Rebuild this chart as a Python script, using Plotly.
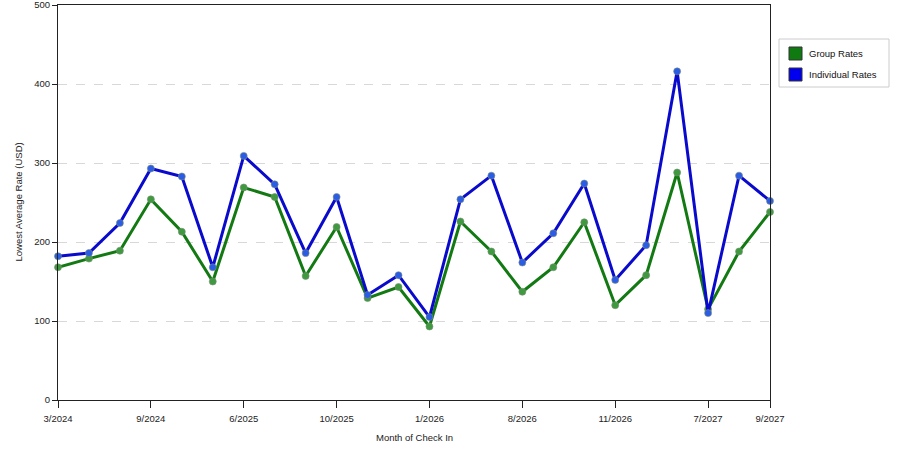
"""Lowest average rate by month of check-in: group vs individual rates."""
import plotly.graph_objects as go

# data
month_idx = list(range(24))
tick_idx = [0, 3, 6, 9, 12, 15, 18, 21, 23]
tick_labels = ["3/2024", "9/2024", "6/2025", "10/2025", "1/2026",
               "8/2026", "11/2026", "7/2027", "9/2027"]

group_rates = [168, 179, 189, 254, 213, 150, 269, 257, 157, 219, 129, 143,
               93, 226, 188, 137, 168, 225, 120, 158, 288, 115, 188, 238]
individual_rates = [182, 186, 224, 293, 283, 168, 309, 273, 186, 257, 133, 158,
                    105, 254, 284, 174, 211, 274, 152, 196, 416, 110, 284, 252]

series = [
    ("Group Rates", group_rates, "#137a13", "#3f9a3f", "#0f7a0f"),
    ("Individual Rates", individual_rates, "#0a0acc", "#2b5ce6", "#0000ee"),
]

FONT = "Liberation Sans, Arial, sans-serif"

fig = go.Figure()
for name, vals, line_col, marker_col, _ in series:
    fig.add_trace(go.Scatter(
        x=month_idx, y=vals, mode="lines+markers", name=name,
        line=dict(color=line_col, width=3),
        marker=dict(color=marker_col, size=7,
                    line=dict(color="rgba(120,140,120,0.6)", width=1)),
        showlegend=False, cliponaxis=False,
    ))

# hand-drawn legend box (square swatches like the original)
shapes = [dict(type="rect", xref="paper", yref="paper",
               x0=(779 - 58) / 712, x1=(889 - 58) / 712,
               y0=(400 - 87) / 395, y1=(400 - 39) / 395,
               line=dict(color="#cccccc", width=1), fillcolor="white")]
annotations = []
for i, (name, _, _, _, swatch) in enumerate(series):
    top = 47 + i * 21
    shapes.append(dict(type="rect", xref="paper", yref="paper",
                       x0=(789 - 58) / 712, x1=(802 - 58) / 712,
                       y0=(400 - top - 13) / 395, y1=(400 - top) / 395,
                       line=dict(color="#333333", width=1), fillcolor=swatch))
    annotations.append(dict(xref="paper", yref="paper", x=(807 - 58) / 712,
                            y=(400 - top - 6.5) / 395, text=name, showarrow=False,
                            xanchor="left", yanchor="middle",
                            font=dict(family=FONT, size=9.5, color="#111111")))

# axis titles placed by hand
annotations.append(dict(xref="paper", yref="paper", x=0.5, y=-37 / 395,
                        text="Month of Check In", showarrow=False,
                        xanchor="center", yanchor="middle",
                        font=dict(family=FONT, size=9.5, color="#222222")))
annotations.append(dict(xref="paper", yref="paper", x=-40 / 712, y=0.5,
                        text="Lowest Average Rate (USD)", showarrow=False,
                        textangle=-90, xanchor="center", yanchor="middle",
                        font=dict(family=FONT, size=9.5, color="#222222")))

fig.update_layout(
    width=900, height=450,
    margin=dict(l=58, r=130, t=5, b=50),
    plot_bgcolor="white", paper_bgcolor="white",
    font=dict(family=FONT, size=9.5, color="#222222"),
    shapes=shapes, annotations=annotations,
)
fig.update_xaxes(
    range=[0, 23], tickvals=tick_idx, ticktext=tick_labels,
    showgrid=False, zeroline=False, showline=True, mirror=True,
    linecolor="#222222", linewidth=1, ticks="outside", ticklen=7,
    tickcolor="#222222", automargin=False, ticklabeloverflow="allow",
    ticklabelstandoff=3,
)
fig.update_yaxes(
    range=[0, 500], tickvals=[0, 100, 200, 300, 400, 500],
    showgrid=True, gridcolor="#d8d8d8", griddash="dash", gridwidth=1,
    zeroline=False, showline=True, mirror=True,
    linecolor="#222222", linewidth=1, ticks="outside", ticklen=5,
    tickcolor="#222222", automargin=False, ticklabeloverflow="allow",
)

# drop the default page margin so the figure sits at the window's corner
fig.write_html("out.html", config={"displayModeBar": False},
               post_script="document.body.style.margin='0';")
